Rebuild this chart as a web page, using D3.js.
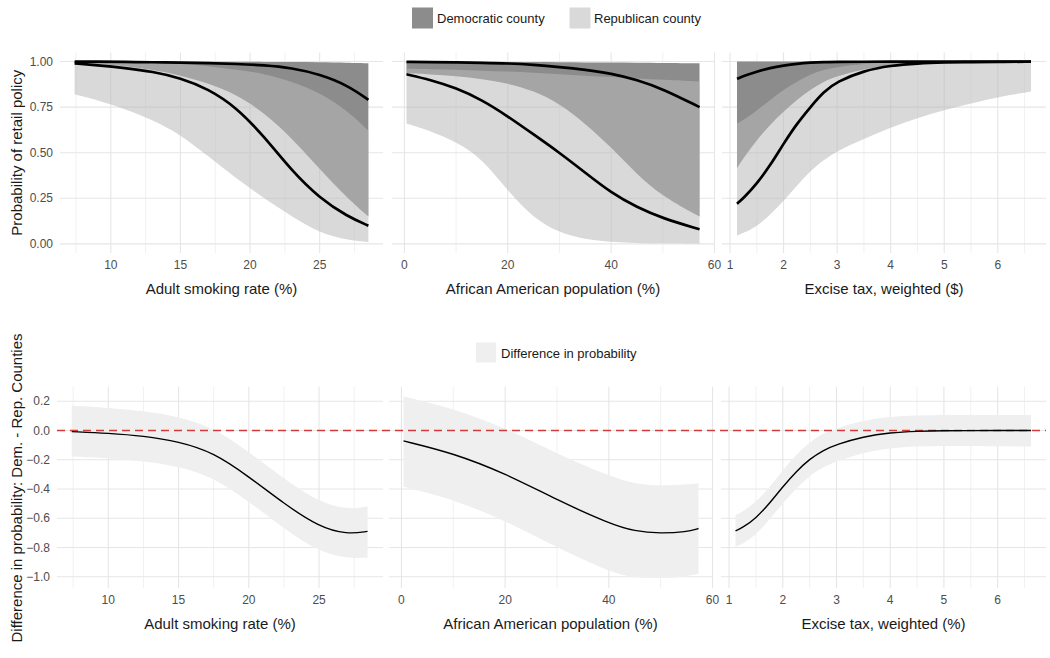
<!DOCTYPE html>
<html><head><meta charset="utf-8">
<script src="https://cdn.jsdelivr.net/npm/d3@7"></script>
<style>
body{margin:0;background:#fff;}
text{font-family:"Liberation Sans",Arial,sans-serif;}
</style></head>
<body><svg id="c" width="1050" height="658"></svg>
<script>
// ---------------- DATA ----------------
const partyLabels = ["Democratic county", "Republican county"];
const diffLabel = "Difference in probability";
const xTitlesTop = ["Adult smoking rate (%)", "African American population (%)", "Excise tax, weighted ($)"];
const xTitlesBottom = ["Adult smoking rate (%)", "African American population (%)", "Excise tax, weighted (%)"];
const yTitleTop = "Probability of retail policy";
const yTitleBottom = "Difference in probability: Dem. - Rep. Counties";

const xTicks = [[10, 15, 20, 25], [0, 20, 40, 60], [1, 2, 3, 4, 5, 6]];
const xMinorTicks = [[7.5, 12.5, 17.5, 22.5, 27.5], [10, 30, 50], [1.5, 2.5, 3.5, 4.5, 5.5, 6.5]];
const yTicksTop = [0, 0.25, 0.5, 0.75, 1];
const yTicksBottom = [0.2, 0, -0.2, -0.4, -0.6, -0.8, -1.0];

// Panel 1: adult smoking rate
const smokeX      = [7.4, 9, 11, 13, 15, 17, 19, 21, 23, 25, 27, 28.5];
const smokeDemFit = [1.0, 0.999, 0.998, 0.996, 0.994, 0.991, 0.987, 0.98, 0.965, 0.93, 0.87, 0.79];
const smokeDemLo  = [0.99, 0.988, 0.975, 0.955, 0.925, 0.88, 0.82, 0.72, 0.58, 0.41, 0.25, 0.15];
const smokeDemHi  = [1.0, 1.0, 1.0, 1.0, 0.999, 0.999, 0.999, 0.998, 0.997, 0.996, 0.993, 0.99];
const smokeRepFit = [0.99, 0.98, 0.965, 0.945, 0.91, 0.85, 0.75, 0.59, 0.40, 0.25, 0.15, 0.10];
const smokeRepLo  = [0.82, 0.79, 0.74, 0.68, 0.60, 0.48, 0.36, 0.25, 0.15, 0.06, 0.02, 0.01];
const smokeRepHi  = [1.0, 0.999, 0.998, 0.995, 0.99, 0.975, 0.955, 0.935, 0.89, 0.83, 0.73, 0.62];

// Panel 2: African American population
const aaX      = [0.4, 5, 10, 15, 20, 25, 30, 35, 40, 45, 50, 57.1];
const aaDemFit = [0.998, 0.997, 0.995, 0.993, 0.99, 0.982, 0.97, 0.955, 0.935, 0.9, 0.85, 0.75];
const aaDemLo  = [0.935, 0.93, 0.92, 0.905, 0.88, 0.84, 0.77, 0.66, 0.53, 0.38, 0.26, 0.15];
const aaDemHi  = [1.0, 0.999, 0.999, 0.998, 0.998, 0.997, 0.996, 0.995, 0.994, 0.993, 0.992, 0.99];
const aaRepFit = [0.93, 0.90, 0.855, 0.79, 0.70, 0.60, 0.50, 0.39, 0.28, 0.20, 0.14, 0.08];
const aaRepLo  = [0.66, 0.62, 0.56, 0.47, 0.29, 0.14, 0.06, 0.025, 0.01, 0.005, 0.003, 0.002];
const aaRepHi  = [0.96, 0.958, 0.955, 0.95, 0.945, 0.938, 0.93, 0.922, 0.915, 0.907, 0.9, 0.89];

// Panel 3: excise tax
const taxX      = [1.13, 1.25, 1.5, 1.75, 2, 2.25, 2.5, 2.75, 3, 3.5, 4, 4.5, 5, 5.5, 6, 6.62];
const taxDemFit = [0.905, 0.92, 0.945, 0.965, 0.978, 0.988, 0.994, 0.997, 0.998, 0.999, 0.999, 0.999, 0.999, 0.999, 0.999, 0.999];
const taxDemLo  = [0.415, 0.47, 0.57, 0.655, 0.725, 0.79, 0.845, 0.89, 0.92, 0.96, 0.978, 0.986, 0.99, 0.991, 0.992, 0.993];
const taxDemHi  = [1.0, 1.0, 1.0, 1.0, 1.0, 1.0, 1.0, 1.0, 1.0, 1.0, 1.0, 1.0, 1.0, 1.0, 1.0, 1.0];
const taxRepFit = [0.22, 0.25, 0.33, 0.43, 0.55, 0.66, 0.75, 0.835, 0.89, 0.95, 0.978, 0.99, 0.995, 0.997, 0.998, 0.999];
const taxRepLo  = [0.045, 0.06, 0.095, 0.16, 0.235, 0.32, 0.40, 0.46, 0.51, 0.575, 0.64, 0.69, 0.735, 0.77, 0.805, 0.835];
const taxRepHi  = [0.66, 0.68, 0.73, 0.79, 0.845, 0.89, 0.93, 0.955, 0.97, 0.988, 0.995, 0.998, 0.999, 0.999, 0.999, 0.999];

// Bottom: difference (Dem - Rep)
const smokeDiffX  = [7.4, 10, 12.5, 15, 17.5, 20, 22.5, 25, 27, 28.45];
const smokeDiff   = [-0.007, -0.018, -0.037, -0.075, -0.15, -0.315, -0.50, -0.66, -0.71, -0.69];
const smokeDiffHi = [0.17, 0.155, 0.135, 0.095, 0.02, -0.145, -0.33, -0.49, -0.54, -0.52];
const smokeDiffLo = [-0.178, -0.19, -0.21, -0.245, -0.32, -0.485, -0.67, -0.83, -0.875, -0.87];

const aaDiffX  = [0.4, 10, 20, 30, 40, 45, 50, 55, 57.3];
const aaDiff   = [-0.071, -0.155, -0.293, -0.475, -0.635, -0.69, -0.704, -0.693, -0.67];
const aaDiffHi = [0.233, 0.15, 0.02, -0.16, -0.31, -0.365, -0.378, -0.37, -0.36];
const aaDiffLo = [-0.384, -0.47, -0.615, -0.80, -0.965, -1.01, -1.01, -1.0, -0.978];

const taxDiffX  = [1.12, 1.25, 1.5, 1.75, 2, 2.25, 2.5, 2.75, 3, 3.5, 4, 4.5, 5, 5.5, 6, 6.62];
const taxDiff   = [-0.686, -0.665, -0.6, -0.5, -0.384, -0.28, -0.195, -0.135, -0.095, -0.041, -0.014, -0.005, -0.001, 0, 0, 0];
const taxDiffHi = [-0.578, -0.555, -0.49, -0.39, -0.27, -0.165, -0.08, -0.02, 0.015, 0.07, 0.095, 0.103, 0.107, 0.107, 0.107, 0.107];
const taxDiffLo = [-0.795, -0.775, -0.715, -0.61, -0.498, -0.395, -0.31, -0.25, -0.21, -0.15, -0.12, -0.108, -0.105, -0.106, -0.108, -0.11];

// ---------------- LAYOUT ----------------
const svg = d3.select("#c");
const demFill = "#8c8c8c", repFill = "#bababa", repOpacity = 0.55, diffFill = "#efefef";
const gridMajor = "#e6e6e6", gridMinor = "#f1f1f1", tickCol = "#4d4d4d";
const curve = d3.curveBasis;

const topDomains = [[6.35, 29.55], [-2.4, 59.9], [0.85, 6.9]];
const topRanges = [[60, 383], [392, 714], [722, 1046]];
const botRanges = [[57, 383], [389, 712], [721, 1046]];
const yTop = d3.scaleLinear().domain([-0.05, 1.05]).range([253, 52.4]);
const yBot = d3.scaleLinear().domain([-1.077, 0.30]).range([588, 386.7]);

const topData = [
  {x: smokeX, demFit: smokeDemFit, demLo: smokeDemLo, demHi: smokeDemHi, repFit: smokeRepFit, repLo: smokeRepLo, repHi: smokeRepHi},
  {x: aaX, demFit: aaDemFit, demLo: aaDemLo, demHi: aaDemHi, repFit: aaRepFit, repLo: aaRepLo, repHi: aaRepHi},
  {x: taxX, demFit: taxDemFit, demLo: taxDemLo, demHi: taxDemHi, repFit: taxRepFit, repLo: taxRepLo, repHi: taxRepHi}
];
const botData = [
  {x: smokeDiffX, fit: smokeDiff, lo: smokeDiffLo, hi: smokeDiffHi},
  {x: aaDiffX, fit: aaDiff, lo: aaDiffLo, hi: aaDiffHi},
  {x: taxDiffX, fit: taxDiff, lo: taxDiffLo, hi: taxDiffHi}
];

function drawGrid(g, x, y, i, yTicks) {
  const [x0, x1] = x.range(), [y0, y1] = y.range();
  g.selectAll(null).data(xMinorTicks[i]).join("line")
    .attr("x1", d => x(d)).attr("x2", d => x(d)).attr("y1", y0).attr("y2", y1)
    .attr("stroke", gridMinor).attr("stroke-width", 1);
  g.selectAll(null).data(xTicks[i]).join("line")
    .attr("x1", d => x(d)).attr("x2", d => x(d)).attr("y1", y0).attr("y2", y1)
    .attr("stroke", gridMajor).attr("stroke-width", 1.1);
  g.selectAll(null).data(yTicks).join("line")
    .attr("x1", x0).attr("x2", x1).attr("y1", d => y(d)).attr("y2", d => y(d))
    .attr("stroke", gridMajor).attr("stroke-width", 1.1);
}

function xLabels(g, x, i, yLab, yTitle, title) {
  g.selectAll(null).data(xTicks[i]).join("text")
    .attr("x", d => x(d)).attr("y", yLab).attr("text-anchor", "middle")
    .attr("dominant-baseline", "central").attr("font-size", 12).attr("fill", tickCol)
    .text(d => d);
  g.append("text").attr("x", (x.range()[0] + x.range()[1]) / 2).attr("y", yTitle)
    .attr("text-anchor", "middle").attr("dominant-baseline", "central")
    .attr("font-size", 15).attr("fill", "#1a1a1a").text(title);
}

// ---------------- TOP ROW ----------------
topData.forEach((p, i) => {
  const x = d3.scaleLinear().domain(topDomains[i]).range(topRanges[i]);
  const g = svg.append("g");
  drawGrid(g, x, yTop, i, yTicksTop);
  const idx = d3.range(p.x.length);
  const band = (lo, hi) => d3.area().curve(curve)
    .x(k => x(p.x[k])).y0(k => yTop(lo[k])).y1(k => yTop(hi[k]));
  const line = v => d3.line().curve(curve).x(k => x(p.x[k])).y(k => yTop(v[k]));
  g.append("path").attr("d", band(p.demLo, p.demHi)(idx)).attr("fill", demFill);
  g.append("path").attr("d", band(p.repLo, p.repHi)(idx)).attr("fill", repFill).attr("fill-opacity", repOpacity);
  g.append("path").attr("d", line(p.demFit)(idx)).attr("fill", "none").attr("stroke", "#000").attr("stroke-width", 2.7);
  g.append("path").attr("d", line(p.repFit)(idx)).attr("fill", "none").attr("stroke", "#000").attr("stroke-width", 2.7);
  xLabels(g, x, i, 265, 288, xTitlesTop[i]);
});
svg.append("g").selectAll("text").data(yTicksTop).join("text")
  .attr("x", 53).attr("y", d => yTop(d)).attr("text-anchor", "end").attr("dominant-baseline", "central")
  .attr("font-size", 12).attr("fill", tickCol).text(d => d3.format(".2f")(d));
svg.append("text").attr("transform", `translate(16,${(yTop.range()[0] + yTop.range()[1]) / 2}) rotate(-90)`)
  .attr("text-anchor", "middle").attr("dominant-baseline", "central").attr("font-size", 15).attr("fill", "#1a1a1a")
  .text(yTitleTop);

// top legend
const leg = svg.append("g");
leg.append("rect").attr("x", 412).attr("y", 7.5).attr("width", 21).attr("height", 21).attr("fill", demFill);
leg.append("text").attr("x", 437).attr("y", 18.3).attr("dominant-baseline", "central").attr("font-size", 13).attr("fill", "#1a1a1a").text(partyLabels[0]);
leg.append("rect").attr("x", 569.5).attr("y", 7.5).attr("width", 21).attr("height", 21).attr("fill", repFill).attr("fill-opacity", repOpacity);
leg.append("text").attr("x", 594).attr("y", 18.3).attr("dominant-baseline", "central").attr("font-size", 13).attr("fill", "#1a1a1a").text(partyLabels[1]);

// ---------------- BOTTOM ROW ----------------
const xBots = botData.map((p, i) => d3.scaleLinear().domain(topDomains[i]).range(botRanges[i]));
botData.forEach((p, i) => {
  const x = xBots[i];
  const g = svg.append("g");
  drawGrid(g, x, yBot, i, yTicksBottom);
  const idx = d3.range(p.x.length);
  g.append("path").attr("d", d3.area().curve(curve).x(k => x(p.x[k])).y0(k => yBot(p.lo[k])).y1(k => yBot(p.hi[k]))(idx))
    .attr("fill", diffFill);
  xLabels(g, x, i, 600, 623, xTitlesBottom[i]);
});
// reference line at zero
svg.append("line").attr("x1", xBots[0].range()[0]).attr("x2", xBots[2].range()[1])
  .attr("y1", yBot(0)).attr("y2", yBot(0))
  .attr("stroke", "#d23b3b").attr("stroke-width", 1.6).attr("stroke-dasharray", "8,5");
botData.forEach((p, i) => {
  const x = xBots[i];
  const idx = d3.range(p.x.length);
  svg.append("path").attr("d", d3.line().curve(curve).x(k => x(p.x[k])).y(k => yBot(p.fit[k]))(idx))
    .attr("fill", "none").attr("stroke", "#000").attr("stroke-width", 1.4);
});
svg.append("g").selectAll("text").data(yTicksBottom).join("text")
  .attr("x", 50).attr("y", d => yBot(d)).attr("text-anchor", "end").attr("dominant-baseline", "central")
  .attr("font-size", 12).attr("fill", tickCol).text(d => d3.format(".1f")(d));
svg.append("text").attr("transform", `translate(16,488) rotate(-90)`)
  .attr("text-anchor", "middle").attr("dominant-baseline", "central").attr("font-size", 15).attr("fill", "#1a1a1a")
  .text(yTitleBottom);

// bottom legend
svg.append("rect").attr("x", 476).attr("y", 342.5).attr("width", 20).attr("height", 20).attr("fill", diffFill);
svg.append("text").attr("x", 501).attr("y", 353).attr("dominant-baseline", "central").attr("font-size", 13).attr("fill", "#1a1a1a").text(diffLabel);
</script></body></html>
